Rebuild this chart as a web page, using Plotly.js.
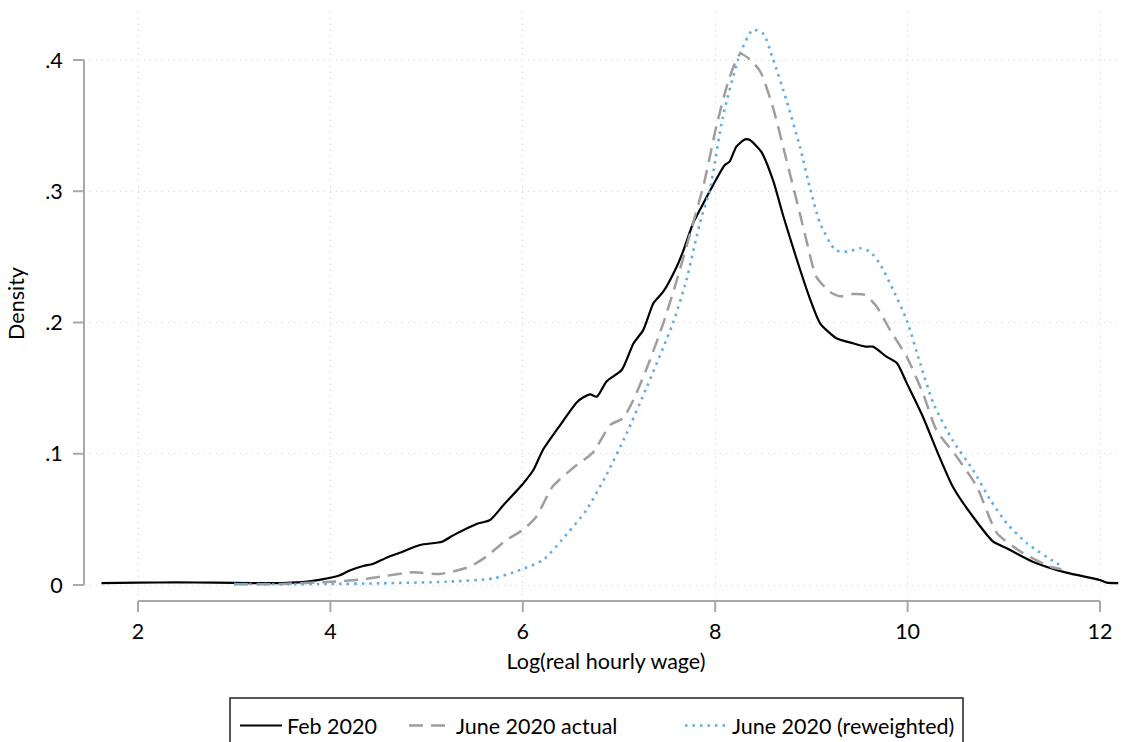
<!DOCTYPE html>
<html><head><meta charset="utf-8">
<script src="https://cdn.plot.ly/plotly-3.0.1.min.js"></script>
<style>html,body{margin:0;padding:0;background:#fff}#chart{width:1125px;height:742px}</style>
</head><body><div id="chart"></div>
<script>
// ---- data ----
const seriesNames = ['Feb 2020', 'June 2020 actual', 'June 2020 (reweighted)'];

const febX = [1.62,2.0,2.4,2.8,3.2,3.5,3.8,4.0,4.1,4.2,4.34,4.44,4.59,4.72,4.93,5.16,5.28,5.52,5.66,5.80,6.00,6.11,6.21,6.39,6.56,6.63,6.70,6.77,6.87,7.03,7.15,7.25,7.36,7.46,7.60,7.67,7.77,7.84,7.98,8.10,8.15,8.22,8.31,8.36,8.48,8.60,8.71,8.85,8.99,9.09,9.26,9.43,9.56,9.64,9.78,9.89,9.99,10.16,10.30,10.47,10.68,10.89,11.03,11.30,11.65,12.0,12.07,12.19];
const febY = [0.0015,0.0018,0.002,0.0018,0.0015,0.0015,0.003,0.0055,0.0075,0.011,0.0145,0.016,0.021,0.0245,0.0305,0.033,0.038,0.0465,0.0495,0.061,0.077,0.0876,0.103,0.122,0.139,0.143,0.1453,0.1435,0.155,0.164,0.184,0.194,0.215,0.2235,0.2425,0.255,0.2756,0.2857,0.305,0.320,0.3226,0.334,0.3395,0.339,0.330,0.3086,0.2806,0.2476,0.217,0.1994,0.188,0.1842,0.1816,0.1816,0.174,0.169,0.154,0.128,0.103,0.0749,0.052,0.033,0.028,0.0178,0.0094,0.0038,0.0018,0.0015];

const actX = [3.0,3.5,4.0,4.3,4.52,4.86,5.14,5.45,5.62,5.83,6.00,6.14,6.31,6.52,6.73,6.91,7.04,7.15,7.32,7.46,7.60,7.74,7.88,8.02,8.15,8.26,8.36,8.47,8.60,8.74,8.88,8.95,9.05,9.19,9.30,9.43,9.56,9.68,9.82,9.99,10.16,10.30,10.51,10.72,10.93,11.20,11.48,11.6];
const actY = [0.0005,0.0008,0.0025,0.004,0.0063,0.0097,0.0084,0.014,0.0216,0.0343,0.042,0.052,0.075,0.089,0.101,0.122,0.127,0.141,0.171,0.1994,0.232,0.268,0.305,0.352,0.387,0.4046,0.4005,0.391,0.364,0.324,0.283,0.262,0.235,0.2235,0.220,0.2217,0.221,0.212,0.194,0.174,0.146,0.118,0.0978,0.0749,0.0394,0.0243,0.014,0.012];

const rewX = [3.0,3.5,4.0,4.52,5.21,5.69,5.97,6.21,6.46,6.66,6.87,7.08,7.29,7.56,7.70,7.84,7.95,8.08,8.26,8.39,8.50,8.60,8.74,8.88,8.99,9.09,9.25,9.37,9.51,9.61,9.71,9.85,9.99,10.13,10.27,10.47,10.68,10.86,11.03,11.24,11.55,11.58];
const rewY = [0.0008,0.0006,0.0008,0.0013,0.0025,0.005,0.0114,0.019,0.039,0.057,0.084,0.1156,0.151,0.1994,0.232,0.2756,0.303,0.357,0.405,0.423,0.420,0.401,0.3695,0.334,0.301,0.2756,0.2552,0.254,0.2565,0.254,0.245,0.2248,0.202,0.169,0.138,0.110,0.0876,0.0648,0.047,0.0318,0.0165,0.0155];

const xTickVals = [2,4,6,8,10,12];
const xTickText = ['2','4','6','8','10','12'];
const yTickVals = [0,0.1,0.2,0.3,0.4];
const yTickText = ['0','.1','.2','.3','.4'];

// ---- layout geometry ----
const W = 1125, H = 742, L = 90, R = 3, T = 12, B = 147;
const plotW = W - L - R, plotH = H - T - B;
const axisColor = '#a9a9a9';
const font = {family: 'Lato, "Open Sans", sans-serif', size: 21.5, color: '#000'};

const px2paperX = p => (p - L) / plotW;
const px2paperY = p => (H - B - p) / plotH;

const shapes = [];
// Stata-style axis lines that span only the labelled range
shapes.push({type:'line', xref:'x', yref:'paper', x0:xTickVals[0], x1:xTickVals[xTickVals.length-1], y0:px2paperY(601), y1:px2paperY(601), line:{color:axisColor, width:2}});
xTickVals.forEach(v => shapes.push({type:'line', xref:'x', yref:'paper', x0:v, x1:v, y0:px2paperY(601), y1:px2paperY(612), line:{color:axisColor, width:2}}));
shapes.push({type:'line', xref:'paper', yref:'y', x0:px2paperX(84), x1:px2paperX(84), y0:yTickVals[0], y1:yTickVals[yTickVals.length-1], line:{color:axisColor, width:2}});
yTickVals.forEach(v => shapes.push({type:'line', xref:'paper', yref:'y', x0:px2paperX(84), x1:px2paperX(73), y0:v, y1:v, line:{color:axisColor, width:2}}));
// legend frame
shapes.push({type:'rect', xref:'paper', yref:'paper', x0:px2paperX(230), x1:px2paperX(963), y0:px2paperY(698), y1:px2paperY(780), line:{color:'#222', width:1.5}, fillcolor:'rgba(0,0,0,0)'});

const traces = [
  {x: febX, y: febY, name: seriesNames[0], type: 'scatter', mode: 'lines', legend: 'legend',
   line: {color: '#000000', width: 2.2, shape: 'spline', smoothing: 0.6}},
  {x: actX, y: actY, name: seriesNames[1], type: 'scatter', mode: 'lines', legend: 'legend2',
   line: {color: '#9e9e9e', width: 2.5, dash: '14px,8px', shape: 'spline', smoothing: 0.6}},
  {x: rewX, y: rewY, name: seriesNames[2], type: 'scatter', mode: 'lines', legend: 'legend3',
   line: {color: '#5dade2', width: 2.6, dash: '2.5px,5px', shape: 'spline', smoothing: 0.6}}
];

const legendBase = (xpx) => ({
  orientation: 'h', xref: 'container', yref: 'container',
  x: xpx / W, xanchor: 'left', y: 1 - 705 / H, yanchor: 'top',
  borderwidth: 0, bgcolor: 'rgba(0,0,0,0)', font: font, itemwidth: 42
});

const layout = {
  width: W, height: H,
  margin: {l: L, r: R, t: T, b: B, autoexpand: false},
  paper_bgcolor: '#fff', plot_bgcolor: '#fff',
  font: font,
  showlegend: true,
  xaxis: {
    range: [2 - 48/96.2, 12 + 22/96.2],
    tickvals: xTickVals, ticktext: xTickText,
    ticks: 'outside', ticklen: 17, tickcolor: 'rgba(0,0,0,0)',
    showline: false, zeroline: false,
    showgrid: true, gridcolor: '#cfcfcf', gridwidth: 1, griddash: '1px,5px',
    tickfont: font,
    title: {text: 'Log(real hourly wage)', font: font, standoff: 11},
    automargin: false
  },
  yaxis: {
    range: [-10/1312.5, 0.4 + 48/1312.5],
    tickvals: yTickVals, ticktext: yTickText,
    ticks: 'outside', ticklen: 22, tickcolor: 'rgba(0,0,0,0)',
    showline: false, zeroline: false,
    showgrid: true, gridcolor: '#cfcfcf', gridwidth: 1, griddash: '1px,5px',
    tickfont: font,
    title: {text: 'Density', font: font, standoff: 14},
    automargin: false
  },
  shapes: shapes,
  legend: legendBase(235),
  legend2: legendBase(404),
  legend3: legendBase(680)
};

Plotly.newPlot('chart', traces, layout, {staticPlot: true, displayModeBar: false});
</script>
</body></html>
